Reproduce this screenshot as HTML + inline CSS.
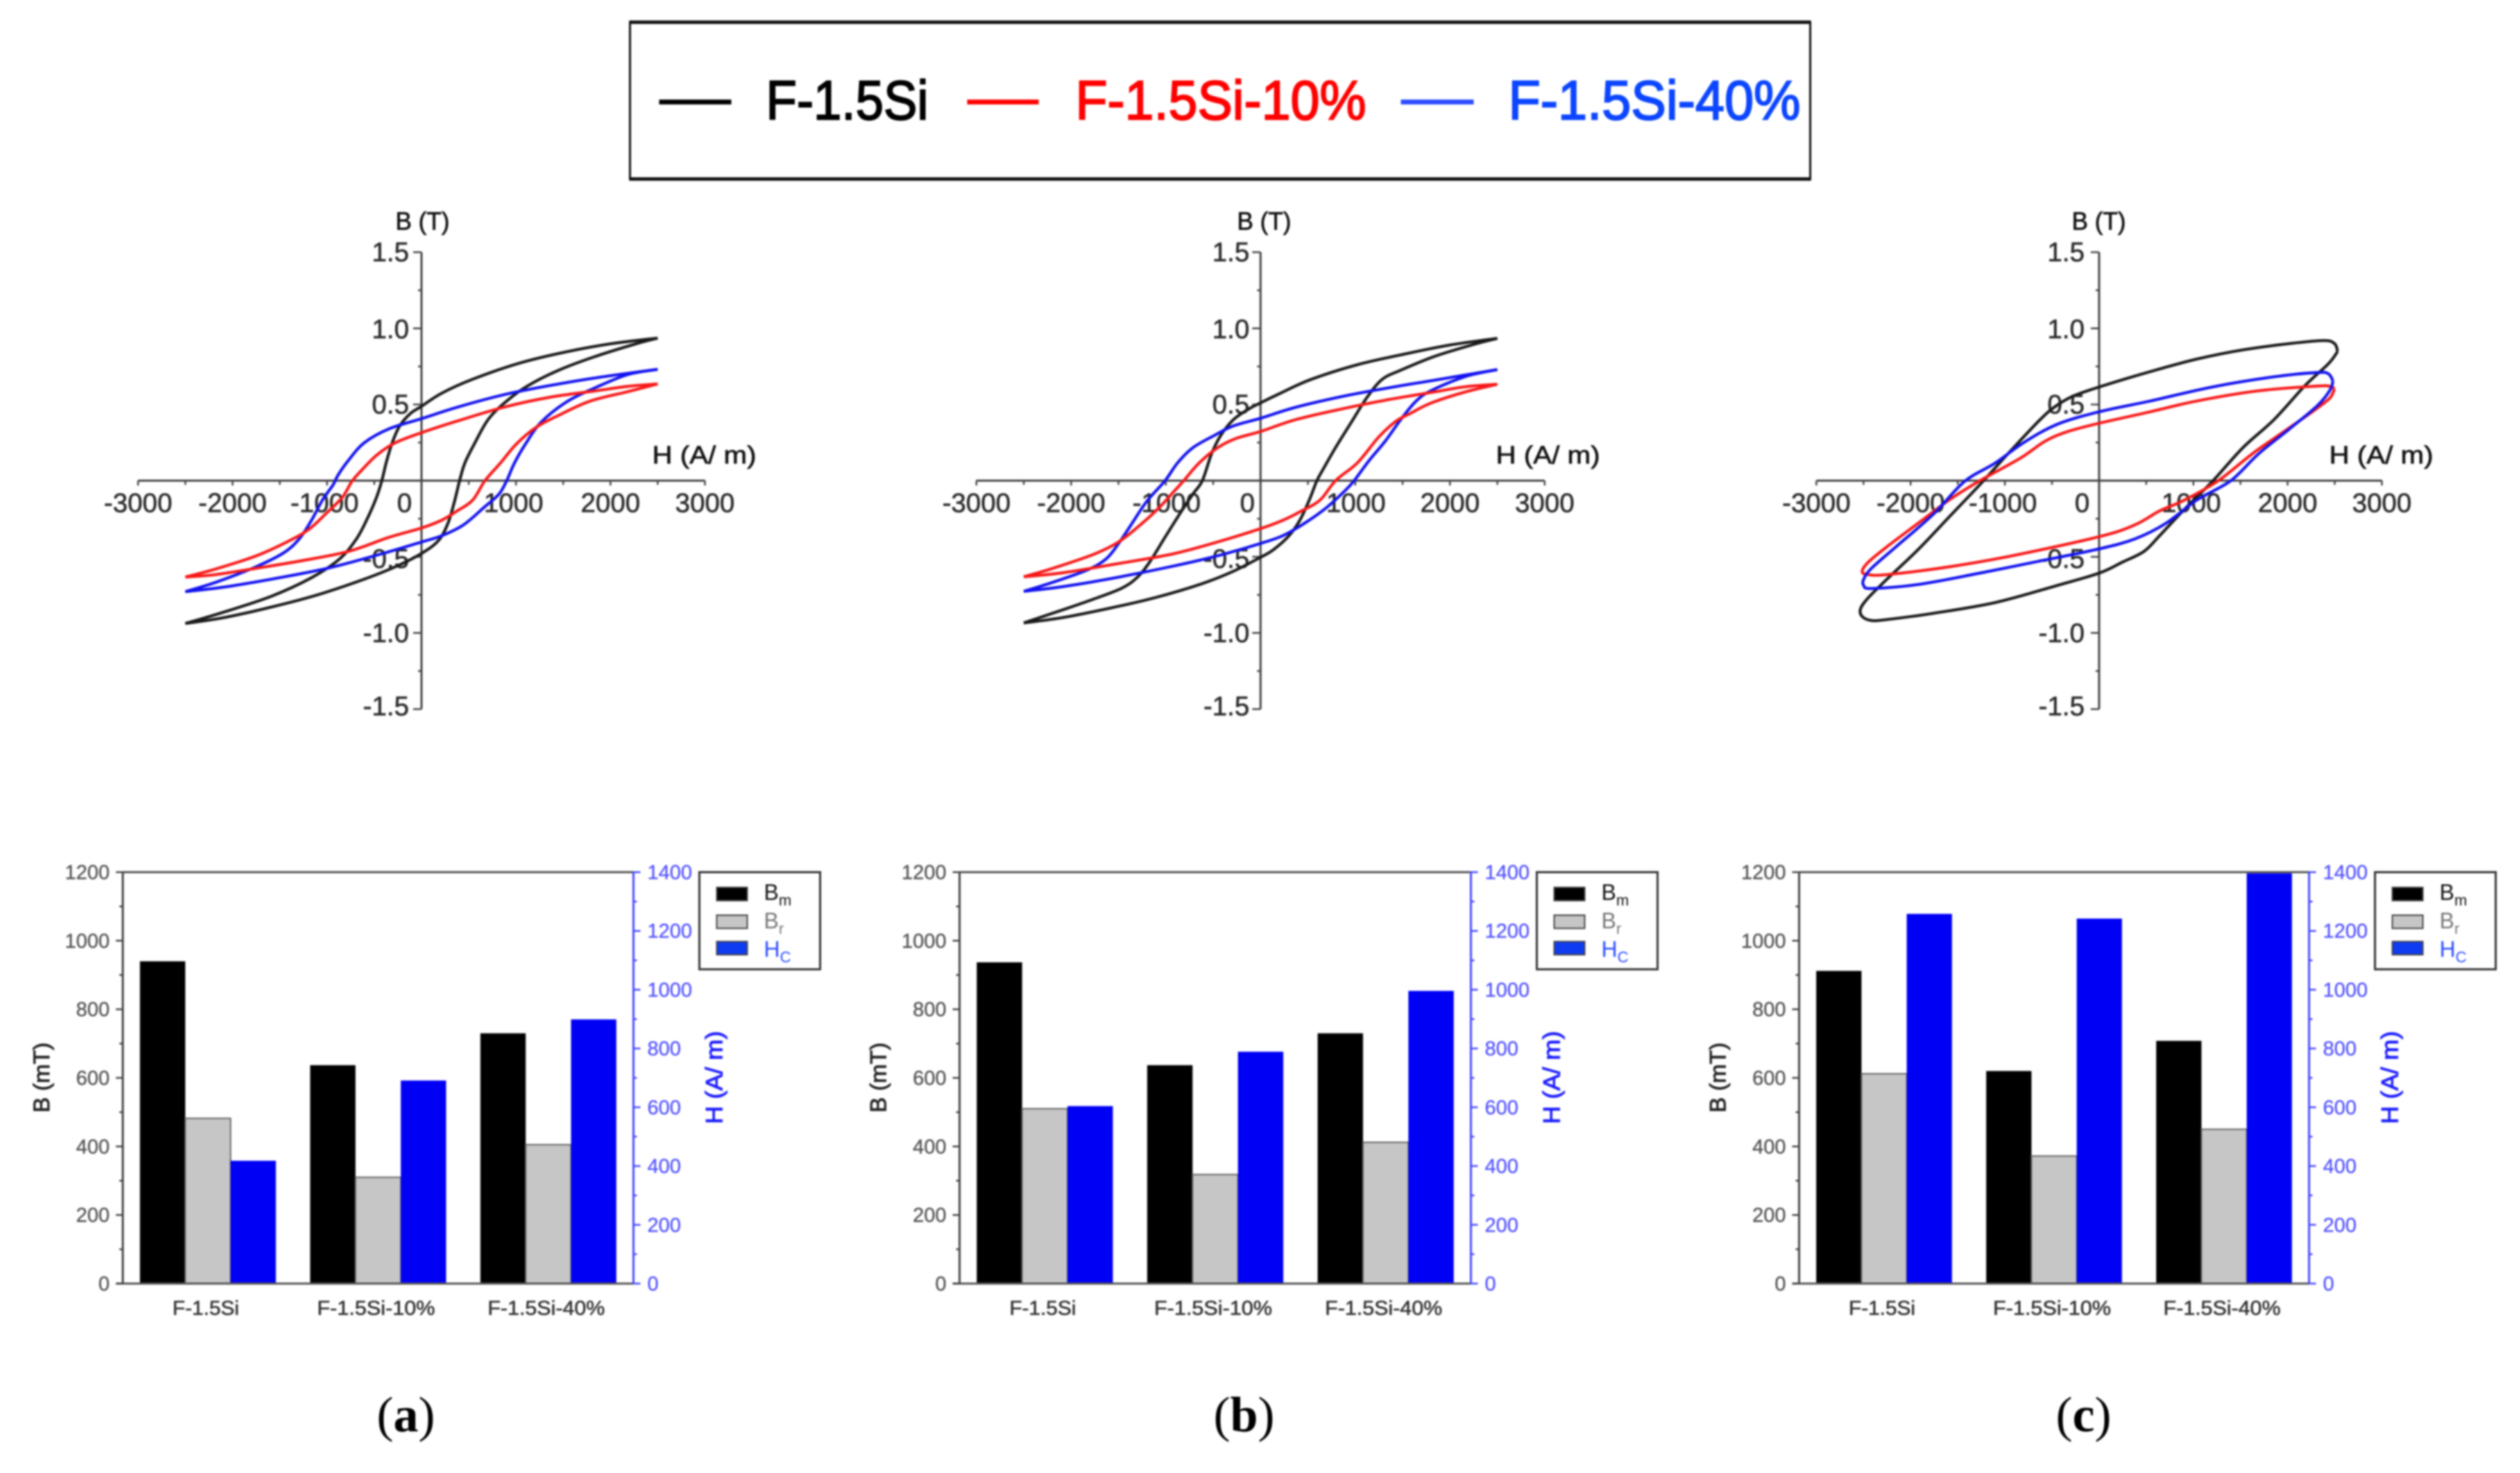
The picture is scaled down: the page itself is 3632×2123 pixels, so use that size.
<!DOCTYPE html>
<html lang="en">
<head>
<meta charset="utf-8">
<title>Hysteresis loops and magnetic properties</title>
<style>
html,body{margin:0;padding:0;background:#fff;}
svg{display:block;}
text{font-family:"Liberation Sans",sans-serif;}
.serif{font-family:"Liberation Serif",serif;}
</style>
</head>
<body>
<svg id="figure" xmlns="http://www.w3.org/2000/svg" width="3632" height="2123" viewBox="0 0 3632 2123">
<rect x="0" y="0" width="3632" height="2123" fill="#fff"/>
<g id="root" style="filter:blur(1.25px)">
  <g>
    <rect x="908" y="32" width="1701" height="226" fill="#fff" stroke="#111" stroke-width="3"/>
    <line x1="907" x2="2610" y1="32" y2="32" stroke="#111" stroke-width="5"/>
    <line x1="907" x2="2610" y1="258" y2="258" stroke="#111" stroke-width="5"/>
    <line x1="950" x2="1054" y1="147" y2="147" stroke="#000" stroke-width="7"/>
    <text x="1104" y="172" font-size="80" fill="#000" stroke="#000" stroke-width="2" textLength="234" lengthAdjust="spacingAndGlyphs">F-1.5Si</text>
    <line x1="1394" x2="1497" y1="147" y2="147" stroke="#f00" stroke-width="7"/>
    <text x="1550" y="172" font-size="80" fill="#f00" stroke="#f00" stroke-width="2" textLength="419" lengthAdjust="spacingAndGlyphs">F-1.5Si-10%</text>
    <line x1="2019" x2="2124" y1="147" y2="147" stroke="#2a4bff" stroke-width="7"/>
    <text x="2174" y="172" font-size="80" fill="#0b45ff" stroke="#0b45ff" stroke-width="2" textLength="421" lengthAdjust="spacingAndGlyphs">F-1.5Si-40%</text>
  </g>
</g>
</svg>
<script>
// ---------- hysteresis tick labels ----------
const hTickValues = [-3000,-2000,-1000,1000,2000,3000];
const hMinorValues = [-2500,-1500,-500,500,1500,2500];
const bTickValues = [-1.5,-1,-0.5,0.5,1,1.5];
const bMinorValues = [-1.25,-0.75,-0.25,0.25,0.75,1.25];

// ---------- panel (a) loops: [H (A/m), B (T)] ----------
const aBlackUp = [[-2500,-0.938],[-2082,-0.861],[-1590,-0.759],[-1164,-0.637],[-869,-0.515],[-689,-0.383],[-574,-0.25],[-475,-0.108],[-420,0],[-370,0.126],[-311,0.248],[-230,0.36],[-115,0.442],[0,0.488],[213,0.574],[541,0.666],[1033,0.771],[1525,0.845],[2016,0.9],[2500,0.936]];
const aBlackDown = [[2500,0.936],[2279,0.9],[1852,0.818],[1459,0.727],[1131,0.625],[902,0.523],[705,0.401],[557,0.238],[459,0.116],[403,0],[344,-0.149],[279,-0.281],[180,-0.393],[0,-0.478],[-279,-0.566],[-607,-0.647],[-1098,-0.749],[-1590,-0.83],[-2082,-0.898],[-2500,-0.938]];
const aBlueUp = [[-2500,-0.729],[-2180,-0.668],[-1754,-0.566],[-1459,-0.474],[-1295,-0.383],[-1164,-0.26],[-1049,-0.128],[-934,-0.026],[-885,0.035],[-770,0.136],[-607,0.248],[-344,0.34],[0,0.407],[377,0.482],[869,0.564],[1361,0.625],[1852,0.676],[2500,0.731]];
const aBlueDown = [[2500,0.731],[2180,0.696],[1820,0.605],[1525,0.513],[1262,0.381],[1098,0.238],[984,0.116],[902,0],[820,-0.088],[656,-0.179],[443,-0.291],[213,-0.362],[0,-0.403],[-443,-0.484],[-1000,-0.576],[-1590,-0.647],[-2082,-0.698],[-2500,-0.729]];
const aRedUp = [[-2500,-0.633],[-2180,-0.58],[-1754,-0.495],[-1426,-0.403],[-1197,-0.322],[-1000,-0.21],[-836,-0.108],[-738,-0.006],[-639,0.065],[-475,0.167],[-279,0.248],[0,0.315],[377,0.391],[869,0.482],[1361,0.548],[1852,0.59],[2180,0.619],[2500,0.635]];
const aRedDown = [[2500,0.635],[2180,0.584],[1787,0.523],[1459,0.431],[1213,0.35],[1000,0.238],[836,0.116],[672,0],[541,-0.128],[377,-0.199],[213,-0.26],[0,-0.311],[-344,-0.372],[-770,-0.464],[-1262,-0.525],[-1754,-0.576],[-2180,-0.617],[-2500,-0.633]];

// ---------- panel (b) loops ----------
const bBlackUp = [[-2500,-0.934],[-2087,-0.848],[-1760,-0.777],[-1465,-0.706],[-1302,-0.635],[-1171,-0.534],[-1008,-0.371],[-844,-0.209],[-713,-0.087],[-615,0],[-517,0.177],[-419,0.298],[-288,0.4],[-124,0.471],[0,0.511],[203,0.572],[530,0.664],[1021,0.761],[1511,0.83],[2002,0.891],[2500,0.934]];
const bBlackDown = [[2500,0.934],[2264,0.897],[1838,0.816],[1479,0.725],[1282,0.664],[1119,0.542],[955,0.38],[792,0.217],[661,0.075],[595,0],[514,-0.128],[415,-0.26],[301,-0.361],[137,-0.453],[0,-0.503],[-288,-0.595],[-615,-0.676],[-1106,-0.767],[-1596,-0.838],[-2087,-0.899],[-2500,-0.934]];
const bBlueUp = [[-2500,-0.727],[-2185,-0.666],[-1825,-0.585],[-1629,-0.513],[-1498,-0.412],[-1367,-0.29],[-1204,-0.138],[-1008,0],[-877,0.116],[-713,0.217],[-484,0.298],[-288,0.359],[0,0.41],[366,0.481],[857,0.552],[1348,0.609],[1838,0.66],[2500,0.729]];
const bBlueDown = [[2500,0.729],[2165,0.684],[1806,0.593],[1642,0.522],[1479,0.4],[1315,0.258],[1151,0.136],[988,0],[890,-0.067],[693,-0.179],[464,-0.28],[236,-0.361],[0,-0.412],[-451,-0.493],[-942,-0.564],[-1596,-0.645],[-2087,-0.696],[-2500,-0.727]];
const bRedUp = [[-2500,-0.631],[-2185,-0.574],[-1760,-0.483],[-1498,-0.402],[-1269,-0.29],[-1073,-0.179],[-909,-0.067],[-811,0],[-648,0.116],[-451,0.217],[-255,0.278],[0,0.323],[366,0.4],[857,0.471],[1348,0.532],[1838,0.583],[2165,0.617],[2500,0.633]];
const bRedDown = [[2500,0.633],[2165,0.583],[1806,0.511],[1577,0.44],[1430,0.39],[1250,0.288],[1021,0.116],[792,0],[628,-0.128],[432,-0.199],[236,-0.26],[0,-0.315],[-451,-0.402],[-942,-0.483],[-1596,-0.554],[-2087,-0.605],[-2500,-0.631]];

// ---------- panel (c) loops ----------
const cBlackLoop = [[2531,0.849],[2498,0.9],[2383,0.92],[2021,0.9],[1528,0.859],[1035,0.798],[542,0.716],[0,0.615],[-279,0.554],[-477,0.482],[-641,0.391],[-937,0.197],[-1265,-0.026],[-1594,-0.24],[-1923,-0.454],[-2251,-0.647],[-2449,-0.769],[-2531,-0.841],[-2514,-0.892],[-2416,-0.918],[-2251,-0.912],[-1758,-0.871],[-1101,-0.8],[-444,-0.688],[0,-0.607],[247,-0.535],[477,-0.464],[641,-0.362],[904,-0.189],[1200,-0.006],[1528,0.218],[1857,0.401],[2186,0.625],[2432,0.767],[2531,0.849]];
const cBlueLoop = [[2482,0.655],[2432,0.702],[2317,0.71],[1857,0.682],[1200,0.615],[542,0.523],[0,0.452],[-444,0.37],[-805,0.248],[-1101,0.116],[-1430,-0.006],[-1758,-0.22],[-2153,-0.433],[-2416,-0.576],[-2498,-0.647],[-2498,-0.688],[-2416,-0.708],[-1923,-0.682],[-1265,-0.607],[-608,-0.525],[0,-0.448],[378,-0.383],[707,-0.281],[1035,-0.128],[1397,0],[1693,0.177],[2021,0.34],[2317,0.493],[2449,0.594],[2482,0.655]];
const cRedLoop = [[2498,0.605],[2449,0.619],[2317,0.621],[1693,0.59],[1035,0.523],[542,0.452],[0,0.377],[-345,0.32],[-575,0.258],[-838,0.147],[-1265,0],[-1594,-0.128],[-1923,-0.281],[-2251,-0.434],[-2449,-0.535],[-2514,-0.596],[-2449,-0.617],[-2251,-0.617],[-1594,-0.566],[-937,-0.495],[0,-0.368],[378,-0.291],[641,-0.199],[904,-0.128],[1265,0],[1627,0.177],[1956,0.32],[2284,0.462],[2449,0.543],[2498,0.605]];

// ---------- bar chart data ----------
const categories = ["F-1.5Si","F-1.5Si-10%","F-1.5Si-40%"];
const leftTickLabels = [0,200,400,600,800,1000,1200];
const leftMinorTicks = [100,300,500,700,900,1100];
const rightTickLabels = [0,200,400,600,800,1000,1200,1400];
const rightMinorTicks = [100,300,500,700,900,1100,1300];
const bmA = [940,637,730];
const brA = [482,310,405];
const hcA = [418,691,899];
const bmB = [937,637,730];
const brB = [510,318,412];
const hcB = [604,789,996];
const bmC = [912,620,708];
const brC = [612,372,450];
const hcC = [1258,1242,1396];

const NS = "http://www.w3.org/2000/svg";
const root = document.getElementById("root");

function make(tag, parent, props, text){
  const el = document.createElementNS(NS, tag);
  for (const k in props) el.setAttribute(k, props[k]);
  if (text !== undefined) el.textContent = text;
  parent.appendChild(el);
  return el;
}
function named(el, name){
  
  
  return el;
}
function smoothPath(pts){
  let d = "M" + pts[0][0].toFixed(1) + " " + pts[0][1].toFixed(1);
  for (let i = 0; i < pts.length - 1; i++){
    const p0 = pts[Math.max(0, i - 1)], p1 = pts[i], p2 = pts[i + 1], p3 = pts[Math.min(pts.length - 1, i + 2)];
    const c1x = p1[0] + (p2[0] - p0[0]) / 6, c1y = p1[1] + (p2[1] - p0[1]) / 6;
    const c2x = p2[0] - (p3[0] - p1[0]) / 6, c2y = p2[1] - (p3[1] - p1[1]) / 6;
    d += "C" + c1x.toFixed(1) + " " + c1y.toFixed(1) + " " + c2x.toFixed(1) + " " + c2y.toFixed(1) + " " + p2[0].toFixed(1) + " " + p2[1].toFixed(1);
  }
  return d;
}

function hysteresisPanel(key, x0, hl, hr, top, bottom, titleX, hTitleX, thousandOffset, zeroOffset, yLabelGap, seriesList){
  const g = named(make("g", root, {}), "hysteresis-panel-" + key);
  const y0 = (top + bottom) / 2;
  const sx = v => x0 + v * (hr - hl) / 6000;
  const sy = v => y0 - v * (bottom - top) / 3;
  const axis = "#444";
  const labelStyle = {"font-size":38.5, fill:"#2a2a2a", stroke:"#2a2a2a", "stroke-width":0.6};
  named(make("line", g, {x1:hl, x2:hr, y1:y0, y2:y0, stroke:axis, "stroke-width":3}), "x-axis-line");
  named(make("line", g, {x1:x0, x2:x0, y1:top, y2:bottom, stroke:axis, "stroke-width":3}), "y-axis-line");
  hTickValues.forEach(v => {
    const off = Math.abs(v) === 1000 ? thousandOffset : 0;
    named(make("line", g, {x1:sx(v), x2:sx(v), y1:y0, y2:y0 + 7, stroke:axis, "stroke-width":2.5}), "x-tick");
    named(make("text", g, Object.assign({x:sx(v) + off, y:y0 + 45, "text-anchor":"middle"}, labelStyle), String(v)), "x-tick-label");
  });
  hMinorValues.forEach(v => {
    named(make("line", g, {x1:sx(v), x2:sx(v), y1:y0, y2:y0 + 6, stroke:axis, "stroke-width":2.5}), "x-minor-tick");
  });
  named(make("text", g, Object.assign({x:x0 + zeroOffset, y:y0 + 45, "text-anchor":"middle"}, labelStyle), "0"), "x-tick-label");
  bTickValues.forEach(v => {
    const off = v === -1.5 ? -4 : (v === -0.5 ? 3 : (v === 1 ? 1 : 0));
    named(make("line", g, {x1:x0 - 12, x2:x0, y1:sy(v), y2:sy(v), stroke:axis, "stroke-width":2.5}), "y-tick");
    named(make("text", g, Object.assign({x:x0 - yLabelGap, y:sy(v) + 13 + off, "text-anchor":"end"}, labelStyle), v.toFixed(1)), "y-tick-label");
  });
  bMinorValues.forEach(v => {
    named(make("line", g, {x1:x0 - 5, x2:x0, y1:sy(v), y2:sy(v), stroke:axis, "stroke-width":2.5}), "y-minor-tick");
  });
  named(make("text", g, {x:titleX, y:331, "font-size":36, fill:"#111", stroke:"#111", "stroke-width":0.7, "text-anchor":"middle", textLength:78, lengthAdjust:"spacingAndGlyphs"}, "B (T)"), "y-axis-title");
  named(make("text", g, {x:hTitleX, y:668, "font-size":36, fill:"#111", stroke:"#111", "stroke-width":0.7, textLength:150, lengthAdjust:"spacingAndGlyphs"}, "H (A/ m)"), "x-axis-title");
  seriesList.forEach(s => {
    s.branches.forEach(b => {
      const pts = b.map(p => [sx(p[0]), sy(p[1])]);
      named(make("path", g, {d:smoothPath(pts), fill:"none", stroke:s.color, "stroke-width":4.2, "stroke-linejoin":"round"}), s.name);
    });
  });
}

hysteresisPanel("a", 607.5, 199, 1016, 363.5, 1022, 609, 940, -3.5, -24.5, 18, [
  {name:"loop-f15si", color:"#1a1a1a", branches:[aBlackUp, aBlackDown]},
  {name:"loop-f15si-40", color:"#1212f0", branches:[aBlueUp, aBlueDown]},
  {name:"loop-f15si-10", color:"#f81818", branches:[aRedUp, aRedDown]}
]);
hysteresisPanel("b", 1816.8, 1407, 2226, 363.5, 1022, 1822, 2156, 1, -19, 16, [
  {name:"loop-f15si", color:"#1a1a1a", branches:[bBlackUp, bBlackDown]},
  {name:"loop-f15si-40", color:"#1212f0", branches:[bBlueUp, bBlueDown]},
  {name:"loop-f15si-10", color:"#f81818", branches:[bRedUp, bRedDown]}
]);
hysteresisPanel("c", 3025.4, 2618, 3433, 363.5, 1022, 3025, 3357, -3, -24.5, 21, [
  {name:"loop-f15si", color:"#1a1a1a", branches:[cBlackLoop]},
  {name:"loop-f15si-10", color:"#f81818", branches:[cRedLoop]},
  {name:"loop-f15si-40", color:"#1212f0", branches:[cBlueLoop]}
]);

function barPanel(key, left, right, bm, br, hc, captionX){
  const g = named(make("g", root, {}), "bar-panel-" + key);
  const top = 1257, bottom = 1850;
  const sl = v => bottom - v * (bottom - top) / 1200;
  const sr = v => bottom - v * (bottom - top) / 1400;
  const band = (right - left) / categories.length;
  const bw = band * 0.2662;
  const blue = "#4848ff";
  categories.forEach((c, i) => {
    const start = left + band * i + band / 2 - bw * 1.5;
    named(make("rect", g, {x:start, y:sl(bm[i]), width:bw, height:bottom - sl(bm[i]), fill:"#000"}), "bar-bm-" + c);
    named(make("rect", g, {x:start + bw, y:sl(br[i]), width:bw, height:bottom - sl(br[i]), fill:"#c6c6c6", stroke:"#666", "stroke-width":2}), "bar-br-" + c);
    named(make("rect", g, {x:start + 2 * bw, y:sr(hc[i]), width:bw, height:bottom - sr(hc[i]), fill:"#0000f5"}), "bar-hc-" + c);
    const widths = [96, 170, 169];
    named(make("text", g, {x:left + band * i + band / 2 - 3, y:1895, "font-size":29, fill:"#333", stroke:"#333", "stroke-width":0.6, "text-anchor":"middle", textLength:widths[i], lengthAdjust:"spacingAndGlyphs"}, c), "category-label");
  });
  named(make("line", g, {x1:left, x2:right, y1:top, y2:top, stroke:"#555", "stroke-width":3}), "top-axis-line");
  named(make("line", g, {x1:left - 10, x2:right, y1:bottom, y2:bottom, stroke:"#555", "stroke-width":3}), "x-axis-line");
  named(make("line", g, {x1:left, x2:left, y1:top, y2:bottom, stroke:"#444", "stroke-width":3}), "left-axis-line");
  named(make("line", g, {x1:right, x2:right, y1:top, y2:bottom, stroke:blue, "stroke-width":3}), "right-axis-line");
  leftTickLabels.forEach(v => {
    named(make("line", g, {x1:left - 10, x2:left, y1:sl(v), y2:sl(v), stroke:"#444", "stroke-width":2.5}), "left-tick");
    named(make("text", g, {x:left - 19, y:sl(v) + 10, "font-size":29, fill:"#555", stroke:"#555", "stroke-width":0.4, "text-anchor":"end"}, String(v)), "left-tick-label");
  });
  leftMinorTicks.forEach(v => {
    named(make("line", g, {x1:left - 5, x2:left, y1:sl(v), y2:sl(v), stroke:"#444", "stroke-width":2.5}), "left-minor-tick");
  });
  rightTickLabels.forEach(v => {
    named(make("line", g, {x1:right, x2:right + 10, y1:sr(v), y2:sr(v), stroke:blue, "stroke-width":2.5}), "right-tick");
    named(make("text", g, {x:right + 20, y:sr(v) + 10, "font-size":29, fill:"#5050ff", stroke:"#5050ff", "stroke-width":0.3}, String(v)), "right-tick-label");
  });
  rightMinorTicks.forEach(v => {
    named(make("line", g, {x1:right, x2:right + 5, y1:sr(v), y2:sr(v), stroke:blue, "stroke-width":2.5}), "right-minor-tick");
  });
  const tx = left - 118, hx = right + 116;
  named(make("text", g, {transform:"translate(" + (tx + 12) + " 1553) rotate(-90)", "font-size":32, fill:"#222", stroke:"#222", "stroke-width":0.9, "text-anchor":"middle", textLength:101, lengthAdjust:"spacingAndGlyphs"}, "B (mT)"), "left-axis-title");
  named(make("text", g, {transform:"translate(" + (hx + 12) + " 1553) rotate(-90)", "font-size":34, fill:"#1a1aff", stroke:"#1a1aff", "stroke-width":0.9, "text-anchor":"middle", textLength:134, lengthAdjust:"spacingAndGlyphs"}, "H (A/ m)"), "right-axis-title");

  const lx = right + 95;
  const lg = named(make("g", g, {}), "bar-legend");
  named(make("rect", lg, {x:lx, y:top, width:174, height:140, fill:"#fff", stroke:"#333", "stroke-width":3}), "bar-legend-box");
  named(make("rect", lg, {x:lx + 25, y:1279, width:44, height:19, fill:"#000", stroke:"#444", "stroke-width":2}), "legend-swatch-bm");
  named(make("rect", lg, {x:lx + 25, y:1319, width:44, height:19, fill:"#c6c6c6", stroke:"#444", "stroke-width":2}), "legend-swatch-br");
  named(make("rect", lg, {x:lx + 25, y:1357, width:44, height:19, fill:"#0f3cf0", stroke:"#444", "stroke-width":2}), "legend-swatch-hc");
  const t1 = named(make("text", lg, {x:lx + 93, y:1297, "font-size":32, fill:"#111"}, "B"), "legend-label-bm");
  make("tspan", t1, {dy:8, "font-size":22}, "m");
  const t2 = named(make("text", lg, {x:lx + 93, y:1338, "font-size":32, fill:"#777"}, "B"), "legend-label-br");
  make("tspan", t2, {dy:8, "font-size":22}, "r");
  const t3 = named(make("text", lg, {x:lx + 93, y:1379, "font-size":32, fill:"#2a4bff"}, "H"), "legend-label-hc");
  make("tspan", t3, {dy:8, "font-size":22}, "C");

  const cap = named(make("text", g, {x:captionX, y:2063, "font-size":72, fill:"#000", "text-anchor":"middle", class:"serif"}, "("), "panel-caption-" + key);
  make("tspan", cap, {"font-weight":"bold"}, key);
  make("tspan", cap, {}, ")");
}

barPanel("a", 177, 913, bmA, brA, hcA, 585);
barPanel("b", 1383, 2120, bmB, brB, hcB, 1793);
barPanel("c", 2593, 3328, bmC, brC, hcC, 3003);
</script>
</body>
</html>
